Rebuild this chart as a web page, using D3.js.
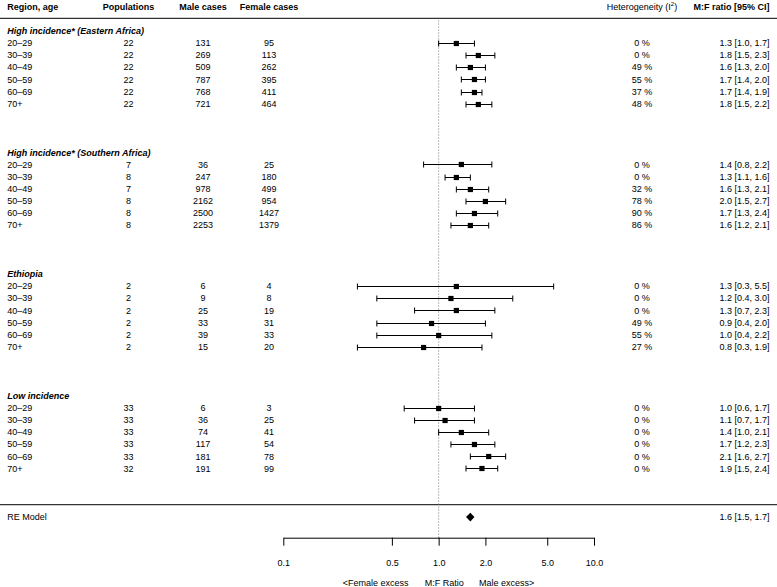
<!DOCTYPE html>
<html>
<head>
<meta charset="utf-8">
<script src="https://cdn.jsdelivr.net/npm/d3@7"></script>
<style>
  html, body { margin: 0; padding: 0; background: #fff; }
  svg { display: block; font-family: "Liberation Sans", Arial, Helvetica, sans-serif; }
</style>
</head>
<body>
<script>
// ---------- data ----------
const groups = ["High incidence* (Eastern Africa)", "High incidence* (Southern Africa)", "Ethiopia", "Low incidence"];
const ages = ["20–29", "30–39", "40–49", "50–59", "60–69", "70+"];
const populations = [
  [22, 22, 22, 22, 22, 22],
  [7, 8, 7, 8, 8, 8],
  [2, 2, 2, 2, 2, 2],
  [33, 33, 33, 33, 33, 32]
];
const maleCases = [
  [131, 269, 509, 787, 768, 721],
  [36, 247, 978, 2162, 2500, 2253],
  [6, 9, 25, 33, 39, 15],
  [6, 36, 74, 117, 181, 191]
];
const femaleCases = [
  [95, 113, 262, 395, 411, 464],
  [25, 180, 499, 954, 1427, 1379],
  [4, 8, 19, 31, 33, 20],
  [3, 25, 41, 54, 78, 99]
];
const i2 = [
  [0, 0, 49, 55, 37, 48],
  [0, 0, 32, 78, 90, 86],
  [0, 0, 0, 49, 55, 27],
  [0, 0, 0, 0, 0, 0]
];
const ratio = [
  [1.3, 1.8, 1.6, 1.7, 1.7, 1.8],
  [1.4, 1.3, 1.6, 2.0, 1.7, 1.6],
  [1.3, 1.2, 1.3, 0.9, 1.0, 0.8],
  [1.0, 1.1, 1.4, 1.7, 2.1, 1.9]
];
const ciLow = [
  [1.0, 1.5, 1.3, 1.4, 1.4, 1.5],
  [0.8, 1.1, 1.3, 1.5, 1.3, 1.2],
  [0.3, 0.4, 0.7, 0.4, 0.4, 0.3],
  [0.6, 0.7, 1.0, 1.2, 1.6, 1.5]
];
const ciHigh = [
  [1.7, 2.3, 2.0, 2.0, 1.9, 2.2],
  [2.2, 1.6, 2.1, 2.7, 2.4, 2.1],
  [5.5, 3.0, 2.3, 2.0, 2.2, 1.9],
  [1.7, 1.7, 2.1, 2.3, 2.7, 2.4]
];
const reModel = { label: "RE Model", est: 1.6, lo: 1.5, hi: 1.7 };
const axisTicks = [0.1, 0.5, 1.0, 2.0, 5.0, 10.0];

// ---------- layout ----------
const W = 777, H = 587;
const svg = d3.select("body").append("svg").attr("width", W).attr("height", H);
svg.append("rect").attr("width", W).attr("height", H).attr("fill", "#fff");

const x = d3.scaleLog().domain([0.1, 10]).range([283.3, 594]);
const y = d3.scaleLinear().domain([0, 40]).range([30.7, 517.1]);
const FS = 9;
const base = v => v + 3.2;

const col = { region: 7.3, pop: 128.5, male: 203, female: 269, het: 642, ci: 769.5 };
const fmt = v => v.toFixed(1);

// header
const hy = base(6.5);
const head = svg.append("g").attr("font-size", FS);
head.append("text").attr("x", col.region).attr("y", hy).attr("font-weight", "bold").text("Region, age");
head.append("text").attr("x", col.pop).attr("y", hy).attr("text-anchor", "middle").attr("font-weight", "bold").text("Populations");
head.append("text").attr("x", col.male).attr("y", hy).attr("text-anchor", "middle").attr("font-weight", "bold").text("Male cases");
head.append("text").attr("x", col.female).attr("y", hy).attr("text-anchor", "middle").attr("font-weight", "bold").text("Female cases");
const het = head.append("text").attr("x", col.het).attr("y", hy).attr("text-anchor", "middle");
het.append("tspan").text("Heterogeneity (I");
het.append("tspan").attr("font-size", 6).attr("dy", -3.5).text("2");
het.append("tspan").attr("dy", 3.5).text(")");
head.append("text").attr("x", col.ci).attr("y", hy).attr("text-anchor", "end").attr("font-weight", "bold").text("M:F ratio [95% CI]");

// horizontal rules
svg.append("line").attr("x1", 0).attr("x2", W).attr("y1", y(-1) - 0.2).attr("y2", y(-1) - 0.2)
  .attr("stroke", "#333").attr("stroke-width", 1.3);
svg.append("line").attr("x1", 0).attr("x2", W).attr("y1", y(39) - 0.3).attr("y2", y(39) - 0.3)
  .attr("stroke", "#333").attr("stroke-width", 1.3);

// reference line at 1
svg.append("line").attr("x1", x(1)).attr("x2", x(1)).attr("y1", y(-1) + 2).attr("y2", 537.7)
  .attr("stroke", "#777").attr("stroke-width", 1).attr("stroke-dasharray", "1,2");

// rows
const body = svg.append("g").attr("font-size", FS);
groups.forEach((g, gi) => {
  const k0 = gi * 10;
  body.append("text").attr("x", col.region).attr("y", base(y(k0)))
    .attr("font-weight", "bold").attr("font-style", "italic").text(g);
  ages.forEach((a, ai) => {
    const cy = y(k0 + 1 + ai);
    const ty = base(cy);
    body.append("text").attr("x", col.region).attr("y", ty).text(a);
    body.append("text").attr("x", col.pop).attr("y", ty).attr("text-anchor", "middle").text(populations[gi][ai]);
    body.append("text").attr("x", col.male).attr("y", ty).attr("text-anchor", "middle").text(maleCases[gi][ai]);
    body.append("text").attr("x", col.female).attr("y", ty).attr("text-anchor", "middle").text(femaleCases[gi][ai]);
    body.append("text").attr("x", col.het).attr("y", ty).attr("text-anchor", "middle").text(i2[gi][ai] + " %");
    body.append("text").attr("x", col.ci).attr("y", ty).attr("text-anchor", "end")
      .text(`${fmt(ratio[gi][ai])} [${fmt(ciLow[gi][ai])}, ${fmt(ciHigh[gi][ai])}]`);

    const lo = x(ciLow[gi][ai]), hi = x(ciHigh[gi][ai]), m = x(ratio[gi][ai]);
    const yy = Math.round(cy) + 0.5;
    svg.append("line").attr("x1", lo).attr("x2", hi).attr("y1", yy).attr("y2", yy).attr("stroke", "#000").attr("stroke-width", 1);
    svg.append("line").attr("x1", lo).attr("x2", lo).attr("y1", yy - 3).attr("y2", yy + 3).attr("stroke", "#000");
    svg.append("line").attr("x1", hi).attr("x2", hi).attr("y1", yy - 3).attr("y2", yy + 3).attr("stroke", "#000");
    svg.append("rect").attr("x", m - 2.6).attr("y", yy - 2.6).attr("width", 5.2).attr("height", 5.2).attr("fill", "#000");
  });
});

// RE model
const ry = y(40);
body.append("text").attr("x", col.region).attr("y", base(ry)).text(reModel.label);
body.append("text").attr("x", col.ci).attr("y", base(ry)).attr("text-anchor", "end")
  .text(`${fmt(reModel.est)} [${fmt(reModel.lo)}, ${fmt(reModel.hi)}]`);
svg.append("path")
  .attr("d", `M${x(reModel.lo)},${ry} L${x(reModel.est)},${ry - 4.3} L${x(reModel.hi)},${ry} L${x(reModel.est)},${ry + 4.3} Z`)
  .attr("fill", "#000");

// axis
const axisY = 537.7;
const axisG = svg.append("g").attr("transform", `translate(0,${axisY})`)
  .call(d3.axisBottom(x).tickValues(axisTicks).tickFormat(d => d.toFixed(1)).tickSize(8).tickPadding(14).tickSizeOuter(0));
axisG.select(".domain").attr("stroke", "#000");
axisG.selectAll(".tick line").attr("stroke", "#000");
axisG.selectAll("text").attr("font-size", FS).attr("font-family", "Liberation Sans, Arial, sans-serif").attr("fill", "#000");

// bottom labels
const by = base(583);
const foot = svg.append("g").attr("font-size", FS);
foot.append("text").attr("x", 375.7).attr("y", by).attr("text-anchor", "middle").text("<Female excess");
foot.append("text").attr("x", 444.3).attr("y", by).attr("text-anchor", "middle").text("M:F Ratio");
foot.append("text").attr("x", 479).attr("y", by).attr("text-anchor", "start").text("Male excess>");
</script>
</body>
</html>
